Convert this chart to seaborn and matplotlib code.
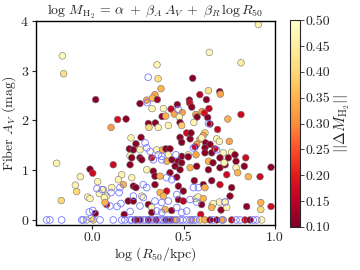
import numpy as np
import pandas as pd
import matplotlib
matplotlib.use("Agg")
import matplotlib.pyplot as plt
import seaborn as sns

sns.set_style("ticks")
plt.rcParams["font.family"] = ["serif"]
plt.rcParams["font.serif"] = ["cmr10", "DejaVu Serif"]
plt.rcParams["mathtext.fontset"] = "cm"
plt.rcParams["axes.unicode_minus"] = False
plt.rcParams["axes.formatter.use_mathtext"] = True

# galaxies with colour = |Delta M_H2|
log_r50 = [-0.162, -0.155, 0.909, 0.641, 0.814, 0.355, 0.361, 0.377, 0.020, 0.262,
           0.299, 0.344, 0.330, 0.357, 0.328, 0.390, 0.383, 0.403, 0.140, 0.186,
           0.104, 0.308, 0.346, 0.311, 0.362, 0.417, 0.550, 0.636, 0.698, 0.701,
           0.589, 0.625, 0.532, 0.534, 0.466, 0.432, 0.545, 0.493, 0.450, 0.477,
           0.639, 0.601, 0.614, 0.567, 0.574, 0.632, 0.742, 0.814, 0.556, 0.481,
           0.490, 0.645, 0.686, 0.517, 0.481, 0.490, 0.536, 0.213, 0.268, 0.240,
           0.262, 0.204, 0.226, 0.208, 0.354, 0.386, 0.404, 0.426, 0.417, 0.490,
           0.526, 0.262, 0.326, 0.541, 0.617, 0.608, 0.590, 0.599, 0.681, 0.696,
           0.750, 0.621, 0.572, 0.563, 0.645, 0.617, 0.672, 0.654, 0.617, 0.717,
           0.763, 0.781, 0.568, 0.526, 0.699, 0.745, 0.840, 0.978, 0.854, 0.918,
           0.787, 0.832, 0.699, 0.763, 0.754, 0.787, 0.796, 0.736, 0.699, 0.727,
           0.696, 0.727, 0.657, 0.705, 0.845, 0.922, 0.922, 0.978, 0.599, 0.594,
           0.568, 0.536, 0.572, 0.636, 0.636, 0.661, 0.722, 0.559, 0.654, 0.608,
           0.617, 0.580, 0.608, 0.663, 0.736, 0.654, 0.116, 0.208, 0.217, 0.272,
           0.408, 0.437, 0.470, 0.490, 0.454, 0.481, 0.299, 0.335, 0.344, 0.372,
           0.426, 0.463, 0.162, 0.217, 0.144, 0.108, 0.171, 0.226, 0.240, 0.344,
           0.408, 0.372, 0.390, 0.472, 0.499, 0.272, 0.080, 0.062, 0.080, 0.198,
           0.226, 0.308, 0.472, 0.499, 0.326, 0.326, 0.399, 0.176, 0.435, -0.193,
           -0.011, 0.004, -0.064, -0.091, -0.084, 0.031, 0.040, -0.023, -0.011, -0.168,
           0.067, 0.071, 0.018, -0.029, 0.007, 0.235, 0.262, 0.308, 0.350, 0.403,
           0.437, 0.463, 0.545, 0.590, 0.617, 0.645, 0.681, 0.717, 0.763, 0.836,
           0.863, 0.927]
fiber_av = [3.30, 2.94, 3.93, 3.37, 3.16, 3.12, 2.84, 2.64, 2.42, 2.34,
            2.41, 2.52, 2.45, 2.42, 2.24, 2.24, 2.08, 2.09, 2.02, 2.03,
            1.86, 1.94, 1.95, 1.86, 1.86, 1.90, 2.85, 2.60, 2.58, 2.53,
            2.52, 2.42, 2.41, 2.35, 2.32, 2.23, 2.27, 2.16, 2.13, 2.07,
            2.24, 2.18, 2.15, 2.12, 2.07, 2.06, 2.03, 2.12, 1.96, 1.96,
            1.90, 1.93, 1.82, 1.75, 1.66, 1.56, 1.63, 1.65, 1.66, 1.53,
            1.41, 1.43, 1.41, 1.29, 1.41, 1.41, 1.43, 1.43, 1.31, 1.28,
            1.31, 1.25, 1.25, 1.75, 1.75, 1.70, 1.62, 1.65, 1.63, 1.58,
            1.58, 1.55, 1.52, 1.47, 1.52, 1.45, 1.43, 1.35, 1.35, 1.35,
            1.36, 1.31, 1.31, 1.27, 1.25, 1.25, 1.25, 1.06, 0.87, 0.87,
            1.18, 1.08, 0.71, 0.65, 0.48, 1.05, 0.95, 0.91, 1.05, 1.11,
            0.36, 0.36, 0.29, 0.20, 0.27, 0.21, 0.35, 0.27, 0.31, 0.11,
            0.43, 1.05, 1.08, 1.18, 1.01, 1.15, 1.15, 0.79, 0.79, 0.71,
            0.65, 0.46, 0.43, 0.33, 0.25, 0.25, 1.11, 1.11, 1.25, 1.21,
            1.18, 1.21, 1.18, 1.15, 1.08, 1.01, 1.01, 0.98, 0.88, 0.88,
            0.95, 0.86, 0.91, 0.85, 0.81, 0.65, 0.71, 0.68, 0.65, 0.71,
            0.58, 0.55, 0.48, 0.68, 0.58, 0.48, 0.48, 0.61, 0.31, 0.38,
            0.38, 0.31, 0.41, 0.38, 0.25, 0.15, 0.21, 0.11, 0.19, 1.14,
            1.02, 0.94, 0.87, 0.70, 0.57, 0.77, 0.53, 0.46, 0.43, 0.39,
            0.45, 0.35, 0.13, 0.0, 0.0, 0.0, 0.0, 0.0, 0.0, 0.0,
            0.0, 0.0, 0.0, 0.0, 0.0, 0.0, 0.0, 0.0, 0.0, 0.0,
            0.0, 0.0]
delta_mh2 = [0.48, 0.42, 0.47, 0.48, 0.45, 0.47, 0.42, 0.35, 0.11, 0.11,
             0.33, 0.33, 0.36, 0.13, 0.47, 0.48, 0.12, 0.35, 0.18, 0.11,
             0.32, 0.11, 0.11, 0.40, 0.47, 0.47, 0.11, 0.42, 0.11, 0.33,
             0.15, 0.11, 0.12, 0.17, 0.11, 0.16, 0.11, 0.33, 0.33, 0.47,
             0.16, 0.32, 0.18, 0.33, 0.11, 0.11, 0.35, 0.17, 0.47, 0.11,
             0.38, 0.12, 0.16, 0.17, 0.11, 0.11, 0.11, 0.47, 0.11, 0.11,
             0.47, 0.11, 0.11, 0.47, 0.47, 0.35, 0.11, 0.11, 0.47, 0.11,
             0.47, 0.11, 0.18, 0.11, 0.40, 0.33, 0.33, 0.47, 0.47, 0.47,
             0.33, 0.11, 0.33, 0.17, 0.11, 0.11, 0.17, 0.11, 0.11, 0.47,
             0.47, 0.11, 0.33, 0.11, 0.11, 0.11, 0.17, 0.11, 0.35, 0.17,
             0.11, 0.11, 0.17, 0.11, 0.11, 0.47, 0.35, 0.17, 0.11, 0.11,
             0.47, 0.47, 0.35, 0.11, 0.11, 0.40, 0.35, 0.17, 0.11, 0.17,
             0.47, 0.35, 0.11, 0.35, 0.11, 0.11, 0.47, 0.11, 0.11, 0.11,
             0.35, 0.47, 0.35, 0.47, 0.47, 0.35, 0.17, 0.11, 0.11, 0.11,
             0.35, 0.11, 0.11, 0.11, 0.11, 0.11, 0.47, 0.11, 0.11, 0.35,
             0.11, 0.11, 0.47, 0.47, 0.47, 0.47, 0.35, 0.11, 0.11, 0.11,
             0.17, 0.35, 0.35, 0.11, 0.11, 0.47, 0.47, 0.47, 0.17, 0.11,
             0.11, 0.11, 0.11, 0.15, 0.47, 0.11, 0.35, 0.11, 0.11, 0.47,
             0.11, 0.17, 0.47, 0.47, 0.40, 0.47, 0.47, 0.47, 0.47, 0.40,
             0.47, 0.35, 0.11, 0.47, 0.38, 0.11, 0.11, 0.11, 0.11, 0.11,
             0.11, 0.35, 0.35, 0.40, 0.35, 0.11, 0.11, 0.33, 0.17, 0.17,
             0.11, 0.47]

# galaxies shown as open blue circles
log_r50_open = [0.307, 0.302, 0.472, 0.636, 0.290, 0.299, 0.317, 0.362, 0.381, 0.459,
                0.554, 0.681, 0.554, 0.581, 0.572, 0.727, 0.056, 0.027, 0.104, 0.148,
                0.153, 0.004, -0.015, -0.004, 0.137, 0.158, 0.280, 0.299, 0.226, 0.280,
                0.344, 0.381, 0.417, 0.262, 0.354, 0.381, 0.463, 0.490, 0.517, 0.335,
                0.381, 0.408, 0.435, 0.463, 0.536, 0.208, 0.098,
                -0.248, -0.230, -0.166, -0.056, -0.048, 0.044, 0.116, 0.162, 0.180, 0.208,
                0.217, 0.246, 0.279, 0.295, 0.317, 0.333, 0.361, 0.377, 0.388, 0.415,
                0.426, 0.454, 0.481, 0.497, 0.517, 0.536, 0.554, 0.568, 0.661, 0.709,
                0.787, 0.809, 0.881, 0.900]
fiber_av_open = [2.87, 2.36, 2.22, 1.94, 1.55, 1.45, 1.38, 1.31, 1.28, 1.31,
                 1.45, 1.41, 0.65, 0.65, 0.36, 0.36, 0.61, 0.63, 0.55, 0.55,
                 0.65, 0.19, 0.16, 0.03, 0.27, 0.33, 0.71, 0.65, 0.48, 0.45,
                 0.38, 0.35, 0.38, 0.28, 0.18, 0.15, 0.25, 0.15, 0.18, 1.21,
                 1.21, 0.85, 0.81, 0.51, 0.41, 0.17, 0.28,
                 0.0, 0.0, 0.0, 0.0, 0.0, 0.0, 0.0, 0.0, 0.0, 0.0,
                 0.0, 0.0, 0.0, 0.0, 0.0, 0.0, 0.0, 0.0, 0.0, 0.0,
                 0.0, 0.0, 0.0, 0.0, 0.0, 0.0, 0.0, 0.0, 0.0, 0.0,
                 0.0, 0.0, 0.0, 0.0]

df = pd.DataFrame({"logR": log_r50, "AV": fiber_av, "dM": delta_mh2})
df_open = pd.DataFrame({"logR": log_r50_open, "AV": fiber_av_open})

fig = plt.figure(figsize=(3.6, 2.7), dpi=100)
ax = fig.add_axes([0.10, 0.167, 0.664, 0.755])
cax = fig.add_axes([0.806, 0.16, 0.028, 0.765])

cmap = plt.get_cmap("YlOrRd_r")
norm = plt.Normalize(0.10, 0.50)

sns.scatterplot(data=df, x="logR", y="AV", hue="dM", palette=cmap, hue_norm=norm,
                s=23, edgecolor="0.45", linewidth=0.4, legend=False, ax=ax, zorder=2)
sns.scatterplot(data=df_open, x="logR", y="AV", s=23, facecolor="none",
                edgecolor="#7878ff", linewidth=0.6, legend=False, ax=ax, zorder=3)

ax.set_xlim(-0.306, 1.0)
ax.set_ylim(-0.1, 4.0)
ax.set_xticks([0.0, 0.5, 1.0])
ax.set_xticklabels(["0.0", "0.5", "1.0"])
ax.set_yticks([0, 1, 2, 3, 4])
ax.set_xlabel(r"$\log\,(R_{50}/{\rm kpc})$", fontsize=10, labelpad=1)
ax.set_ylabel(r"Fiber $A_V$ (mag)", fontsize=10, labelpad=2)
ax.set_title(r"$\log\,M_{\rm H_2}\,=\,\alpha\;+\;\beta_A\,A_V\;+\;\beta_R\,\log R_{50}$",
             fontsize=10, pad=3)
ax.tick_params(labelsize=10, length=3, width=0.8, pad=2)
for sp in ax.spines.values():
    sp.set_linewidth(1.0)
    sp.set_color("black")

sm = plt.cm.ScalarMappable(cmap=cmap, norm=norm)
cb = fig.colorbar(sm, cax=cax)
cb.set_ticks([0.10, 0.15, 0.20, 0.25, 0.30, 0.35, 0.40, 0.45, 0.50])
cb.set_ticklabels(["0.10", "0.15", "0.20", "0.25", "0.30", "0.35", "0.40", "0.45", "0.50"])
cb.ax.tick_params(labelsize=10, length=3, width=0.6, pad=1)
cb.outline.set_linewidth(0.8)
cb.set_label(r"$||\Delta M_{\rm H_2}||$", fontsize=11, labelpad=1)

fig.savefig("out.png", dpi=100)
